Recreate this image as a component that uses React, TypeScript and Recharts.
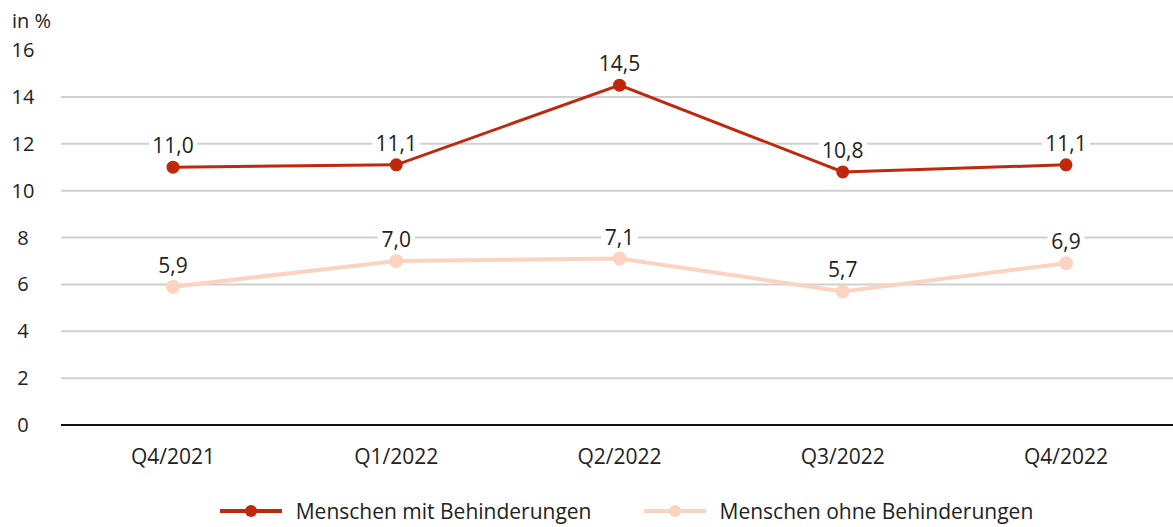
import { CartesianGrid, Legend, Line, LineChart, XAxis, YAxis, Label } from "recharts";

const quarters = ["Q4/2021", "Q1/2022", "Q2/2022", "Q3/2022", "Q4/2022"];
const mitBehinderung = [11.0, 11.1, 14.5, 10.8, 11.1];
const ohneBehinderung = [5.9, 7.0, 7.1, 5.7, 6.9];
const yTicks = [0, 2, 4, 6, 8, 10, 12, 14, 16];

const data = quarters.map((q, i) => ({
    quarter: q,
    mit: mitBehinderung[i],
    ohne: ohneBehinderung[i],
}));

const RED = "#c0280c";
const PEACH = "#fcd3c0";
const FONT = "'Open Sans', sans-serif";

const fmt = (v: number) => v.toFixed(1).replace(".", ",");

function ValueLabel(props: any) {
    const { x, y, value } = props;
    const text = fmt(value);
    const w = text.length * 11 + 4;
    return (
        <g>
            <rect x={x - w / 2} y={y - 31} width={w} height={20} fill="#fff" />
            <text x={x} y={y - 14} textAnchor="middle" fontSize={21} fontFamily={FONT} fill="#222">
                {text}
            </text>
        </g>
    );
}

function YTick(props: any) {
    const { y, payload } = props;
    return (
        <text x={23} y={y + 7} textAnchor="middle" fontSize={20} fontFamily={FONT} fill="#222">
            {payload.value}
        </text>
    );
}

function LegendContent() {
    const items = [
        { label: "Menschen mit Behinderungen", color: RED },
        { label: "Menschen ohne Behinderungen", color: PEACH },
    ];
    return (
        <div
            style={{
                display: "flex",
                justifyContent: "center",
                gap: 52,
                paddingLeft: 80,
                fontFamily: FONT,
                fontSize: 21,
                color: "#222",
            }}
        >
            {items.map((it) => (
                <div key={it.label} style={{ display: "flex", alignItems: "center" }}>
                    <svg width={62} height={14} style={{ marginRight: 14 }}>
                        <line x1={0} y1={7} x2={62} y2={7} stroke={it.color} strokeWidth={4} />
                        <circle cx={31} cy={7} r={6} fill={it.color} />
                    </svg>
                    <span>{it.label}</span>
                </div>
            ))}
        </div>
    );
}

export default function App() {
    return (
        <div style={{ position: "absolute", left: 0, top: 0 }}>
            <LineChart width={1173} height={527} data={data} margin={{ top: 50, right: 0, bottom: 0, left: 0 }}>
                <CartesianGrid vertical={false} horizontalValues={[2, 4, 6, 8, 10, 12, 14]} stroke="#d0d0d0" strokeWidth={2} />
                <XAxis
                    dataKey="quarter"
                    padding={{ left: 112, right: 107 }}
                    axisLine={{ stroke: "#111", strokeWidth: 2 }}
                    tickLine={false}
                    tick={{ fontSize: 21, fontFamily: FONT, fill: "#222" }}
                    tickMargin={18}
                    height={50}
                />
                <YAxis
                    domain={[0, 16]}
                    ticks={yTicks}
                    width={61}
                    axisLine={false}
                    tickLine={false}
                    tick={<YTick />}
                    interval={0}
                >
                    <Label
                        content={(p: any) => (
                            <text x={12} y={p.viewBox.y - 22} fontSize={20} fontFamily={FONT} fill="#222">
                                in %
                            </text>
                        )}
                    />
                </YAxis>
                <Legend verticalAlign="bottom" height={52} wrapperStyle={{ top: 497 }} content={<LegendContent />} />
                <Line
                    dataKey="ohne"
                    stroke={PEACH}
                    strokeWidth={4}
                    dot={{ r: 5, fill: PEACH, stroke: PEACH }}
                    isAnimationActive={false}
                    label={<ValueLabel />}
                />
                <Line
                    dataKey="mit"
                    stroke={RED}
                    strokeWidth={3}
                    dot={{ r: 5, fill: RED, stroke: RED }}
                    isAnimationActive={false}
                    label={<ValueLabel />}
                />
            </LineChart>
        </div>
    );
}
